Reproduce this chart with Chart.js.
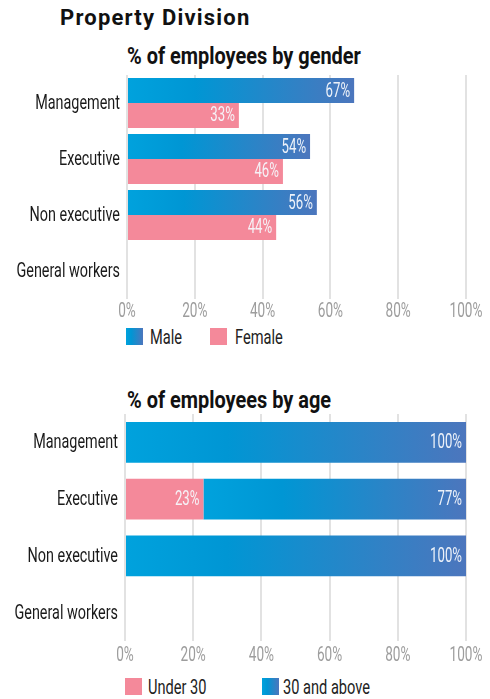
<!DOCTYPE html>
<html><head><meta charset="utf-8">
<script src="https://cdn.jsdelivr.net/npm/chart.js@4"></script>
<style>
body{margin:0;background:#fff;width:490px;height:699px;position:relative;overflow:hidden;font-family:Roboto,sans-serif;}
.h{position:absolute;color:#111;white-space:nowrap;transform-origin:0 0;}
#main{left:60px;top:7px;font-weight:bold;font-size:22px;line-height:22px;letter-spacing:1.2px;}
.t{font-weight:bold;font-size:24px;line-height:24px;left:127px;transform:scaleX(0.83);}
.cw{position:absolute;left:0;width:490px;}
.sw{position:absolute;width:17px;height:17px;}
.lt{position:absolute;font-size:20px;line-height:17px;height:17px;color:#222;white-space:nowrap;transform:scaleX(0.73);transform-origin:0 50%;}
.blue{background:linear-gradient(to right,#00a2dd,#0096d4 30%,#4c76bd);}
.pink{background:#f4899a;}
</style></head>
<body>
<div class="h" id="main">Property Division</div>
<div class="h t" style="top:44px">% of employees by gender</div>
<div class="cw" style="top:70px;height:253px"><canvas id="c1"></canvas></div>
<div class="sw blue" style="left:126px;top:328px"></div><div class="lt" style="left:150px;top:329px">Male</div>
<div class="sw pink" style="left:210px;top:328px"></div><div class="lt" style="left:235px;top:329px">Female</div>
<div class="h t" style="top:388px">% of employees by age</div>
<div class="cw" style="top:410px;height:255px"><canvas id="c2"></canvas></div>
<div class="sw pink" style="left:125px;top:678px"></div><div class="lt" style="left:148px;top:679px">Under 30</div>
<div class="sw blue" style="left:262px;top:678px"></div><div class="lt" style="left:283px;top:679px">30 and above</div>
<script>
const categories = ['Management','Executive','Non executive','General workers'];
const tickLabels = ['0%','20%','40%','60%','80%','100%'];
const genderMale = [67,54,56,null];
const genderFemale = [33,46,44,null];
const ageUnder30 = [null,23,null,null];
const age30Above = [100,77,100,null];

const FONT = "Roboto, sans-serif";
const PINK = '#f4899a';

function blueGrad(ctx){
  const chart = ctx.chart;
  if(!chart.chartArea || ctx.type !== 'data') return '#2a8dd0';
  const xs = chart.scales.x;
  let start = 0;
  if(chart.options.scales.x.stacked){
    for(let d=0; d<ctx.datasetIndex; d++){
      const v = chart.data.datasets[d].data[ctx.dataIndex];
      if(v) start += v;
    }
  }
  const v = ctx.raw || 0;
  const x0 = xs.getPixelForValue(start), x1 = xs.getPixelForValue(start+v);
  if(x1 - x0 < 1) return '#2a8dd0';
  const g = chart.ctx.createLinearGradient(x0,0,x1,0);
  g.addColorStop(0,'#00a2dd');
  g.addColorStop(0.3,'#0096d4');
  g.addColorStop(1,'#4c76bd');
  return g;
}

function condText(c, text, x, y, align, sx){
  c.save();
  c.translate(x, y);
  c.scale(sx, 1);
  c.textAlign = align;
  c.fillText(text, 0, 0);
  c.restore();
}

const textPlugin = {
  id:'condensedText',
  afterDraw(chart){
    const c = chart.ctx;
    const xs = chart.scales.x, ys = chart.scales.y;
    c.save();
    c.textBaseline = 'middle';
    // bar value labels
    c.font = '20px ' + FONT;
    c.fillStyle = 'rgba(246,248,252,0.95)';
    chart.data.datasets.forEach((ds,di)=>{
      const meta = chart.getDatasetMeta(di);
      meta.data.forEach((el,i)=>{
        const v = ds.data[i];
        if(!v) return;
        condText(c, v + '%', el.x - 4, el.y + 1, 'right', 0.66);
      });
    });
    // y axis labels
    c.font = '20px ' + FONT;
    c.fillStyle = '#1a1a1a';
    const labs = ys.getLabels();
    ys.ticks.forEach((t,i)=>{
      condText(c, labs[t.value], chart.chartArea.left - 7, ys.getPixelForTick(i) + 1, 'right', 0.72);
    });
    // x axis labels
    c.fillStyle = '#9d9d9d';
    xs.ticks.forEach((t,i)=>{
      condText(c, tickLabels[i], xs.getPixelForTick(i), chart.chartArea.bottom + chart.options.xLabelOffset, 'center', 0.68);
    });
    c.restore();
  }
};

function makeOpts(stacked, yWidth, padTop, labelOff){
  return {
    indexAxis:'y',
    responsive:true,
    maintainAspectRatio:false,
    animation:false,
    xLabelOffset: labelOff,
    layout:{padding:{left:0,right:24,top:padTop,bottom:24}},
    plugins:{legend:{display:false},tooltip:{enabled:false}},
    scales:{
      x:{
        stacked:stacked,
        min:0,max:100,
        border:{display:false},
        grid:{color:'#e2e2e2',lineWidth:2,drawTicks:false},
        ticks:{display:false,stepSize:20}
      },
      y:{
        stacked:stacked,
        border:{display:false},
        grid:{display:false,drawTicks:false},
        ticks:{display:false},
        afterFit:(s)=>{s.width = yWidth;}
      }
    }
  };
}

new Chart(document.getElementById('c1'),{
  type:'bar',
  data:{labels:categories,datasets:[
    {label:'Male',data:genderMale,backgroundColor:blueGrad,categoryPercentage:0.89,barPercentage:1},
    {label:'Female',data:genderFemale,backgroundColor:PINK,categoryPercentage:0.89,barPercentage:1}
  ]},
  options:makeOpts(false,127,5,13),
  plugins:[textPlugin]
});

new Chart(document.getElementById('c2'),{
  type:'bar',
  data:{labels:categories,datasets:[
    {label:'Under 30',data:ageUnder30,backgroundColor:PINK,categoryPercentage:0.72,barPercentage:1},
    {label:'30 and above',data:age30Above,backgroundColor:blueGrad,categoryPercentage:0.72,barPercentage:1}
  ]},
  options:makeOpts(true,125,4,15),
  plugins:[textPlugin]
});
</script>
</body></html>
